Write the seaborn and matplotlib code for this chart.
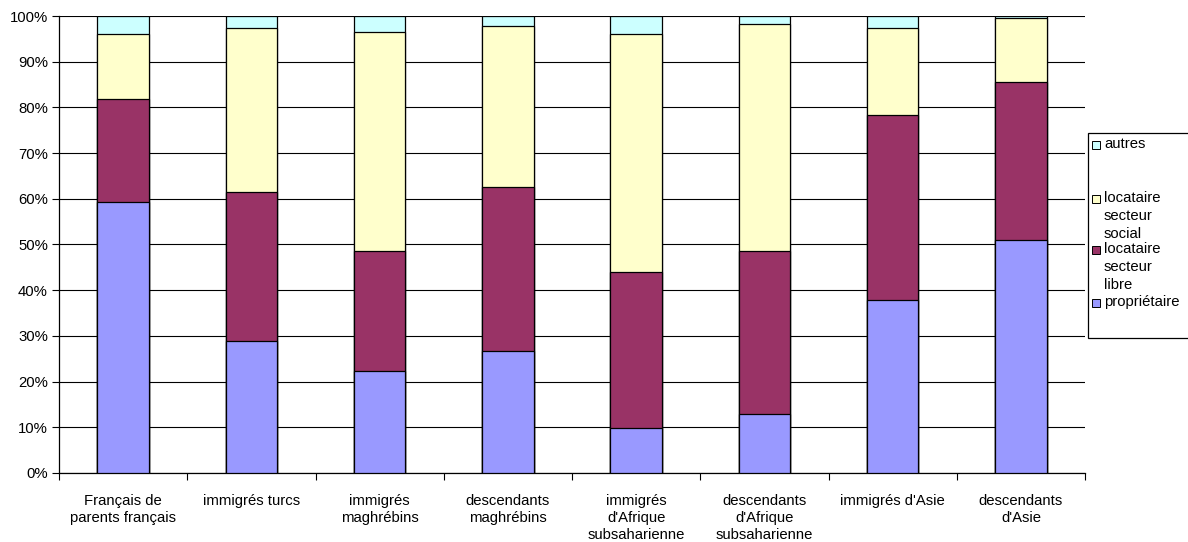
import matplotlib
matplotlib.use("Agg")
import matplotlib.pyplot as plt
from matplotlib.patches import Rectangle
from matplotlib.ticker import MultipleLocator, FixedLocator, PercentFormatter
import numpy as np
import pandas as pd
import seaborn as sns

categories = ["Français de\nparents français", "immigrés turcs", "immigrés\nmaghrébins",
              "descendants\nmaghrébins", "immigrés\nd'Afrique\nsubsaharienne",
              "descendants\nd'Afrique\nsubsaharienne", "immigrés d'Asie", "descendants\nd'Asie"]
proprietaire = [59.3, 28.9, 22.3, 26.7, 9.8, 12.9, 37.9, 51.0]
loc_libre = [22.5, 32.6, 26.3, 35.9, 34.2, 35.7, 40.4, 34.6]
loc_social = [14.3, 35.9, 47.9, 35.2, 52.1, 49.6, 19.1, 13.9]
autres = [3.9, 2.6, 3.5, 2.2, 3.9, 1.8, 2.6, 0.5]
series_names = ["propriétaire", "locataire\nsecteur\nlibre", "locataire\nsecteur\nsocial", "autres"]
colors = ["#9999FF", "#993366", "#FFFFCC", "#CCFFFF"]

sns.set_theme(style="white")
plt.rcParams['font.family'] = ['Liberation Sans', 'DejaVu Sans']
plt.rcParams['font.size'] = 10.7
plt.rcParams['text.color'] = 'black'
plt.rcParams['xtick.color'] = 'black'
plt.rcParams['ytick.color'] = 'black'
plt.rcParams['xtick.labelcolor'] = 'black'
plt.rcParams['ytick.labelcolor'] = 'black'

FS = 10.7
W, H = 1188, 542
fig = plt.figure(figsize=(W / 100, H / 100), dpi=100)
ax = fig.add_axes([59 / W, 1 - 473 / H, (1085 - 59) / W, (473 - 16) / H])

df = pd.DataFrame({"cat": categories, "p": proprietaire, "l": loc_libre,
                   "s": loc_social, "a": autres})
vals = df[["p", "l", "s", "a"]].to_numpy()
tot = vals.sum(axis=1, keepdims=True)
cum = np.cumsum(vals / tot, axis=1)
for i in range(3, -1, -1):
    d = pd.DataFrame({"cat": categories, "y": cum[:, i]})
    sns.barplot(data=d, x="cat", y="y", color=colors[i], width=0.4,
                edgecolor="black", linewidth=0.9, saturation=1, ax=ax, zorder=3)

ax.set_xlim(-0.5, 7.5)
ax.set_ylim(0, 1)
ax.yaxis.set_major_locator(MultipleLocator(0.1))
ax.yaxis.set_major_formatter(PercentFormatter(1.0, decimals=0))
ax.grid(axis="y", color="black", linewidth=0.8, zorder=0)
ax.set_axisbelow(True)
ax.set_xlabel("")
ax.set_ylabel("")
for s in ["top", "right"]:
    ax.spines[s].set_visible(False)
for s in ["left", "bottom"]:
    ax.spines[s].set_visible(True)
    ax.spines[s].set_color("black")
    ax.spines[s].set_linewidth(0.9)
ax.tick_params(axis="y", left=True, length=5, width=0.8, color="black",
               labelsize=FS, labelcolor="black", pad=3)
ax.tick_params(axis="x", bottom=False, labelsize=FS, labelcolor="black", pad=9)
ax.xaxis.set_minor_locator(FixedLocator(np.arange(-0.5, 8, 1)))
ax.tick_params(axis="x", which="minor", bottom=True, length=5, width=0.8, color="black")
for t in ax.get_xticklabels():
    t.set_linespacing(1.3)
    t.set_verticalalignment("top")

# legend (manual layout to mimic Excel style)
def fx(x):
    return x / W
def fy(y):
    return 1 - y / H

fig.patches.append(Rectangle((fx(1088), fy(338)), fx(1200) - fx(1088), fy(133) - fy(338),
                             transform=fig.transFigure, facecolor="white",
                             edgecolor="black", linewidth=0.9))
entries = [("autres", 145, colors[3]),
           ("locataire\nsecteur\nsocial", 199, colors[2]),
           ("locataire\nsecteur\nlibre", 250, colors[1]),
           ("propriétaire", 303, colors[0])]
for label, y, c in entries:
    fig.patches.append(Rectangle((fx(1092), fy(y + 4)), fx(8), 8 / H,
                                 transform=fig.transFigure, facecolor=c,
                                 edgecolor="black", linewidth=0.7))
    fig.text(fx(1104), fy(y - 8), label, ha="left", va="top", fontsize=FS,
             linespacing=1.35, color="black")

fig.savefig("out.png", dpi=100)
